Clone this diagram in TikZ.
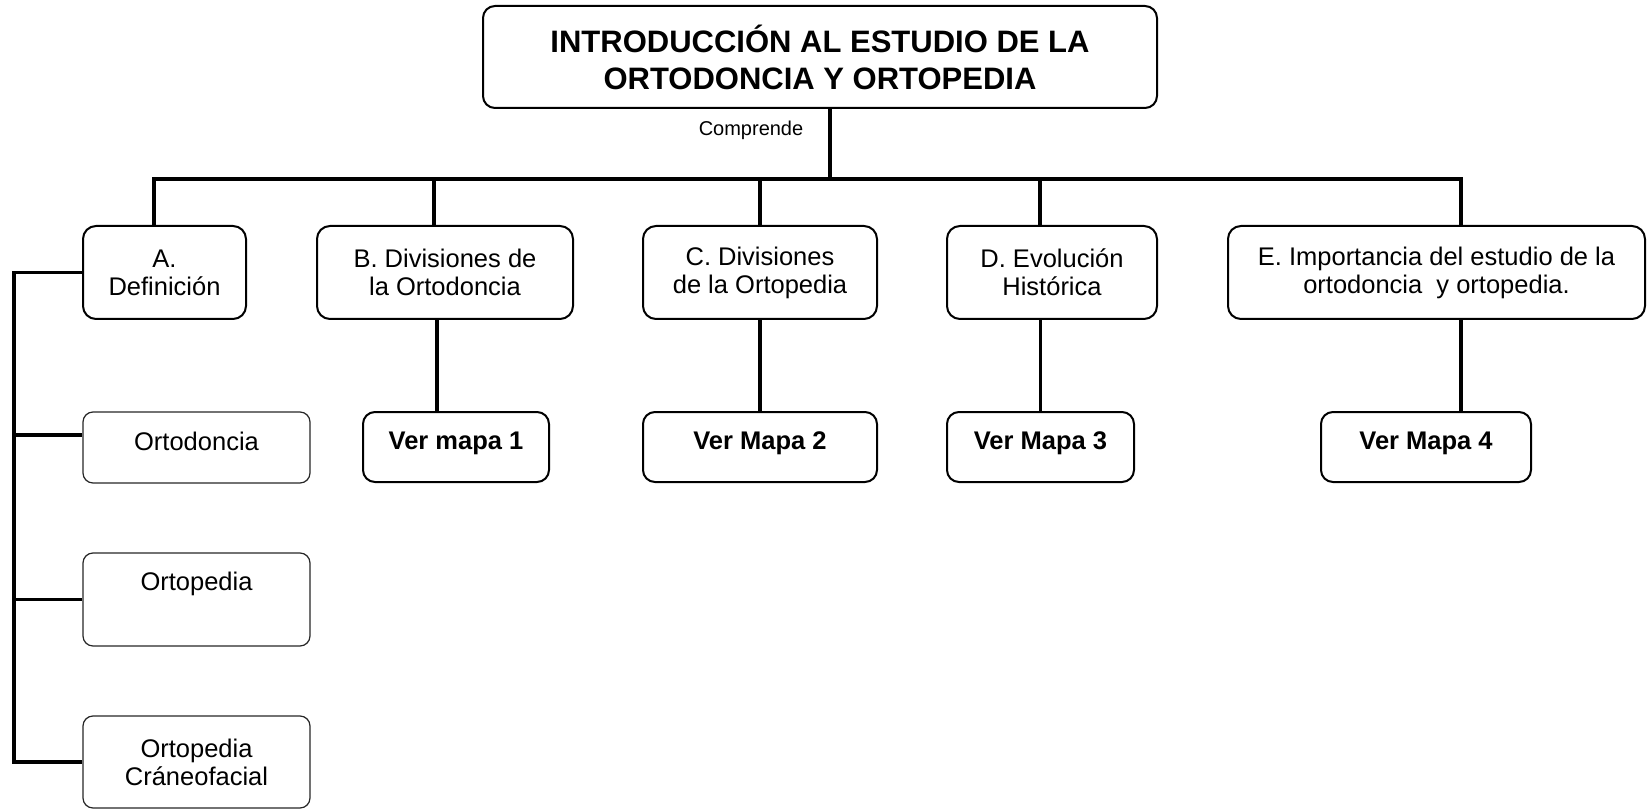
\documentclass[tikz,border=0pt]{standalone}
\usepackage{fontspec}
\setmainfont{Liberation Sans}
\begin{document}
\begin{tikzpicture}[x=1pt,y=-1pt,
  box/.style={draw, line width=2pt, rounded corners=13pt, align=center, inner sep=0pt,
    font=\fontsize{25.5}{28}\selectfont},
  thinbox/.style={draw=black!85, line width=1.2pt, rounded corners=10pt, align=center, inner sep=0pt,
    font=\fontsize{25.5}{28}\selectfont},
  onerow/.style={text height=18pt, text depth=13pt},
  conn/.style={line width=3.3pt, line join=miter}]
\useasboundingbox (0,0) rectangle (1647,810);

% title
\node[box, rounded corners=12pt, minimum width=674pt, minimum height=102pt,
  font=\fontsize{31}{37}\selectfont\bfseries] (title) at (820,57)
  {INTRODUCCIÓN AL ESTUDIO DE LA\\ORTODONCIA Y ORTOPEDIA};
\node[font=\fontsize{20}{24}\selectfont, inner sep=0pt] (comp) at (751,130) {Comprende};

% first row
\node[box, minimum width=163pt, minimum height=93pt] (A) at (164.5,272.5) {A.\\Definición};
\node[box, minimum width=256pt, minimum height=93pt] (B) at (445,272.5) {B. Divisiones de\\la Ortodoncia};
\node[box, minimum width=234pt, minimum height=93pt] (C) at (760,272.5) {C. Divisiones\\de la Ortopedia};
\node[box, minimum width=210pt, minimum height=93pt] (D) at (1052,272.5) {D. Evolución\\Histórica};
\node[box, minimum width=417pt, minimum height=93pt] (E) at (1436.5,272.5) {E. Importancia del estudio de la\\ortodoncia\ \ y ortopedia.};

% second row
\node[box, rounded corners=12pt, onerow, minimum width=186pt, minimum height=70pt, font=\fontsize{25.5}{28}\selectfont\bfseries] (m1) at (456,447) {Ver mapa 1};
\node[box, rounded corners=12pt, onerow, minimum width=234pt, minimum height=70pt, font=\fontsize{25.5}{28}\selectfont\bfseries] (m2) at (760,447) {Ver Mapa 2};
\node[box, rounded corners=12pt, onerow, minimum width=187pt, minimum height=70pt, font=\fontsize{25.5}{28}\selectfont\bfseries] (m3) at (1040.5,447) {Ver Mapa 3};
\node[box, rounded corners=12pt, onerow, minimum width=210pt, minimum height=70pt, font=\fontsize{25.5}{28}\selectfont\bfseries] (m4) at (1426,447) {Ver Mapa 4};

% left column
\node[thinbox, onerow, minimum width=227pt, minimum height=71pt] (ort) at (196.5,447.5) {Ortodoncia};
\node[thinbox, text height=10pt, text depth=28pt, minimum width=227pt, minimum height=93pt] (orp) at (196.5,599.5) {Ortopedia};
\node[thinbox, minimum width=227pt, minimum height=92pt] (ocf) at (196.5,762) {Ortopedia\\Cráneofacial};

% connectors
\coordinate (tb) at (830,179);
\coordinate (bA) at (154,179);
\coordinate (bB) at (434,179);
\coordinate (bD) at (1040,179);
\coordinate (bE) at (1461,179);
\coordinate (xB) at (437,0);
\coordinate (xD) at (1040.5,0);
\coordinate (l1) at (14,272.5);
\coordinate (l2) at (14,435);
\coordinate (l3) at (14,599.5);
\coordinate (l4) at (14,762);

\draw[conn] (tb |- title.south) -- (tb);
\draw[conn] (bA |- A.north) -- (bA) -- (bE) -- (bE |- E.north);
\draw[conn] (bB) -- (bB |- B.north);
\draw[conn] (C.north |- tb) -- (C.north);
\draw[conn] (bD) -- (bD |- D.north);

\draw[conn] (xB |- B.south) -- (xB |- m1.north);
\draw[conn] (C.south) -- (m2.north);
\draw[conn] (xD |- D.south) -- (m3.north);
\draw[conn] (bE |- E.south) -- (bE |- m4.north);

\draw[conn] (l1 -| A.west) -- (l1) -- (l4) -- (l4 -| ocf.west);
\draw[conn] (l2) -- (l2 -| ort.west);
\draw[conn] (l3) -- (orp.west);
\end{tikzpicture}
\end{document}
